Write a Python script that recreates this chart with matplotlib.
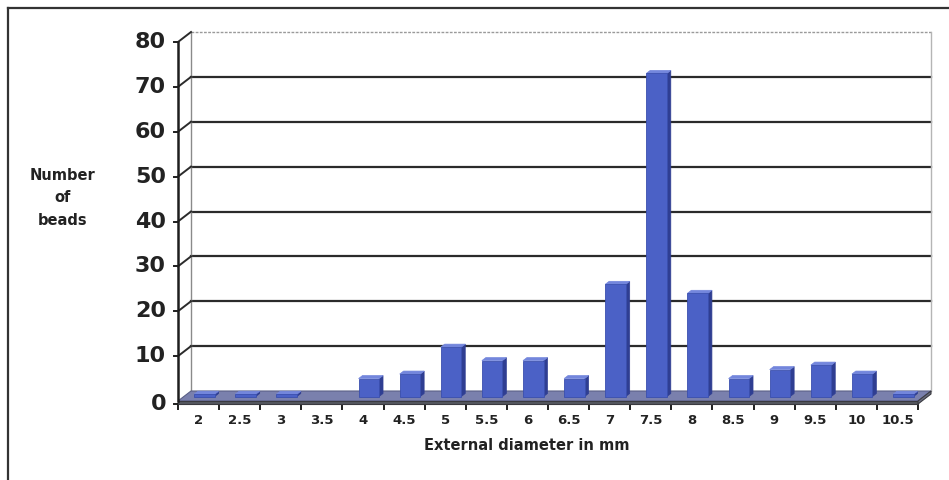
import matplotlib
matplotlib.use("Agg")
from matplotlib import pyplot as plt
from matplotlib.patches import Polygon
from matplotlib.lines import Line2D
from matplotlib.transforms import IdentityTransform
import numpy as np

# bead counts per external diameter (mm)
diameters = ["2", "2.5", "3", "3.5", "4", "4.5", "5", "5.5", "6",
             "6.5", "7", "7.5", "8", "8.5", "9", "9.5", "10", "10.5"]
counts = [0.5, 0.5, 0.5, 0, 4, 5, 11, 8, 8, 4, 25, 72, 23, 4, 6, 7, 5, 0.5]
y_ticks = [0, 10, 20, 30, 40, 50, 60, 70, 80]

W, H, DPI = 949, 480, 100
DX, DY = 13, 10          # depth of the chart box in pixels
SLAB = 3                 # floor thickness in pixels
BAR_W = 0.5
BAR_D0, BAR_D1 = 0.45, 0.75

fig = plt.figure(figsize=(W / DPI, H / DPI), dpi=DPI)
fig.patch.set_facecolor("white")

# front plane of the 3d box
ax = fig.add_axes([178 / W, (H - 401) / H, (918 - 178) / W, (401 - 42) / H])
ax.set_xlim(0, len(diameters))
ax.set_ylim(0, 80)
ax.axis("off")


def to_px(x, y, d, drop=0):
    px, py = ax.transData.transform((x, y))
    return px + d * DX, py + d * DY - drop


def face(pts, **kw):
    verts = [to_px(*p) for p in pts]
    poly = Polygon(verts, closed=True, transform=IdentityTransform(), **kw)
    fig.add_artist(poly)
    return poly


def seg(p0, p1, **kw):
    a, b = to_px(*p0), to_px(*p1)
    fig.add_artist(Line2D([a[0], b[0]], [a[1], b[1]], transform=IdentityTransform(), **kw))


n = len(diameters)
grid_col = "#2b2b2b"
ink = "#1e1e1e"

# back wall
face([(0, 0, 1), (n, 0, 1), (n, 80, 1), (0, 80, 1)], facecolor="white", edgecolor="none", zorder=1)
for v in y_ticks[1:-1]:
    seg((0, v, 1), (n, v, 1), color=grid_col, lw=1.6, zorder=2)
seg((0, 80, 1), (n, 80, 1), color="#9a9a9a", lw=1.0, ls=(0, (2, 1)), zorder=2)
seg((n, 0, 1), (n, 80, 1), color="#b5b5b5", lw=1.0, zorder=2)
seg((0, 0, 1), (0, 80, 1), color="#8a8a8a", lw=1.0, zorder=2)

# slanted connectors from the value axis to the back wall
for v in y_ticks[1:]:
    seg((0, v, 0), (0, v, 1), color=grid_col, lw=1.4, zorder=3)

# floor slab: top face and front edge
face([(0, 0, 0), (n, 0, 0), (n, 0, 1), (0, 0, 1)], facecolor="#7a80ad", edgecolor="#5a5f86", lw=0.8, zorder=3)
face([(0, 0, 0, 0), (n, 0, 0, 0), (n, 0, 0, SLAB), (0, 0, 0, SLAB)],
     facecolor="#55575f", edgecolor="#3a3a40", lw=0.8, zorder=6)
face([(n, 0, 0, 0), (n, 0, 1, 0), (n, 0, 1, SLAB), (n, 0, 0, SLAB)],
     facecolor="#6a6d80", edgecolor="#3a3a40", lw=0.8, zorder=6)

# 3d columns
front_col, side_col, top_col = "#4b61c6", "#2f3e92", "#7386dc"
for i, c in enumerate(counts):
    if c <= 0:
        continue
    x0, x1 = i + 0.5 - BAR_W / 2, i + 0.5 + BAR_W / 2
    face([(x1, 0, BAR_D0), (x1, 0, BAR_D1), (x1, c, BAR_D1), (x1, c, BAR_D0)],
         facecolor=side_col, edgecolor=side_col, lw=0.5, zorder=4)
    face([(x0, c, BAR_D0), (x1, c, BAR_D0), (x1, c, BAR_D1), (x0, c, BAR_D1)],
         facecolor=top_col, edgecolor=top_col, lw=0.5, zorder=4)
    face([(x0, 0, BAR_D0), (x1, 0, BAR_D0), (x1, c, BAR_D0), (x0, c, BAR_D0)],
         facecolor=front_col, edgecolor="#3a4fae", lw=0.6, zorder=5)

# value axis
seg((0, 0, 0), (0, 80, 0), color=ink, lw=1.8, zorder=7)
for v in y_ticks:
    px, py = to_px(0, v, 0, SLAB if v == 0 else 0)
    fig.add_artist(Line2D([px - 4, px], [py, py], transform=IdentityTransform(), color=ink, lw=1.4))
    fig.text((px - 12) / W, py / H, str(v), ha="right", va="center",
             fontsize=16, fontweight="bold", color="#222222")

# category axis
for k in range(n + 1):
    px, py = to_px(k, 0, 0, SLAB)
    fig.add_artist(Line2D([px, px], [py, py - 5], transform=IdentityTransform(), color=ink, lw=1.4))
for i, lab in enumerate(diameters):
    px, py = to_px(i + 0.5, 0, 0, SLAB)
    fig.text(px / W, (py - 17) / H, lab, ha="center", va="center",
             fontsize=9.5, fontweight="bold", color="#222222")

fig.text(527 / W, (H - 445) / H, "External diameter in mm", ha="center", va="center",
         fontsize=10.5, fontweight="bold", color="#222222")
fig.text(63 / W, (H - 198) / H, "Number\nof\nbeads", ha="center", va="center",
         fontsize=10.5, fontweight="bold", color="#222222", linespacing=1.6)

# outer frame
fig.add_artist(Line2D([8 / W, 8 / W], [0, (H - 8) / H], transform=fig.transFigure, color="#333333", lw=1.6))
fig.add_artist(Line2D([8 / W, 1], [(H - 8) / H, (H - 8) / H], transform=fig.transFigure, color="#333333", lw=1.6))

fig.savefig("out.png", dpi=DPI)
plt.close(fig)
